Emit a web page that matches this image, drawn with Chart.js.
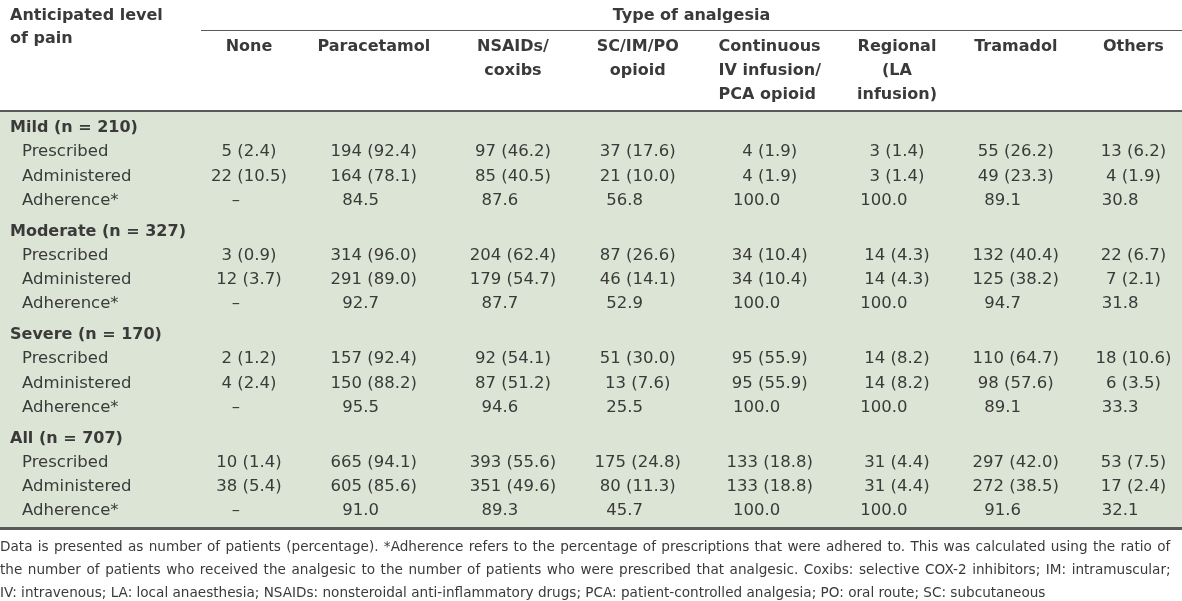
<!DOCTYPE html>
<html>
<head>
<meta charset="utf-8">
<script src="https://cdn.jsdelivr.net/npm/chart.js@4/dist/chart.umd.min.js"></script>
<style>
    html, body { margin: 0; padding: 0; background: #fff; }
    #painTable { display: block; }
</style>
</head>
<body>
<canvas id="painTable" width="1182" height="601"></canvas>
<script>
// column headers (one entry per line of the header cell)
var analgesiaTypes = [
    ['None'],
    ['Paracetamol'],
    ['NSAIDs/', 'coxibs'],
    ['SC/IM/PO', 'opioid'],
    ['Continuous', 'IV infusion/', 'PCA opioid'],
    ['Regional', '(LA', 'infusion)'],
    ['Tramadol'],
    ['Others']
];
var painLevels = ['Mild (n = 210)', 'Moderate (n = 327)', 'Severe (n = 170)', 'All (n = 707)'];
var rowLabels = ['Prescribed', 'Administered', 'Adherence*'];

// number of patients, then percentage
var prescribedN = [
    [5, 194, 97, 37, 4, 3, 55, 13],
    [3, 314, 204, 87, 34, 14, 132, 22],
    [2, 157, 92, 51, 95, 14, 110, 18],
    [10, 665, 393, 175, 133, 31, 297, 53]
];
var prescribedPct = [
    [2.4, 92.4, 46.2, 17.6, 1.9, 1.4, 26.2, 6.2],
    [0.9, 96.0, 62.4, 26.6, 10.4, 4.3, 40.4, 6.7],
    [1.2, 92.4, 54.1, 30.0, 55.9, 8.2, 64.7, 10.6],
    [1.4, 94.1, 55.6, 24.8, 18.8, 4.4, 42.0, 7.5]
];
var administeredN = [
    [22, 164, 85, 21, 4, 3, 49, 4],
    [12, 291, 179, 46, 34, 14, 125, 7],
    [4, 150, 87, 13, 95, 14, 98, 6],
    [38, 605, 351, 80, 133, 31, 272, 17]
];
var administeredPct = [
    [10.5, 78.1, 40.5, 10.0, 1.9, 1.4, 23.3, 1.9],
    [3.7, 89.0, 54.7, 14.1, 10.4, 4.3, 38.2, 2.1],
    [2.4, 88.2, 51.2, 7.6, 55.9, 8.2, 57.6, 3.5],
    [5.4, 85.6, 49.6, 11.3, 18.8, 4.4, 38.5, 2.4]
];
var adherence = [
    [null, 84.5, 87.6, 56.8, 100.0, 100.0, 89.1, 30.8],
    [null, 92.7, 87.7, 52.9, 100.0, 100.0, 94.7, 31.8],
    [null, 95.5, 94.6, 25.5, 100.0, 100.0, 89.1, 33.3],
    [null, 91.0, 89.3, 45.7, 100.0, 100.0, 91.6, 32.1]
];

var footnote = [
    'Data is presented as number of patients (percentage). *Adherence refers to the percentage of prescriptions that were adhered to. This was calculated using the ratio of',
    'the number of patients who received the analgesic to the number of patients who were prescribed that analgesic. Coxibs: selective COX-2 inhibitors; IM: intramuscular;',
    'IV: intravenous; LA: local anaesthesia; NSAIDs: nonsteroidal anti-inflammatory drugs; PCA: patient-controlled analgesia; PO: oral route; SC: subcutaneous'
];

// layout only: column centres in column units, header alignment, spacing
var colPos = [0, 1.04, 2.2, 3.24, 4.34, 5.4, 6.39, 7.37];
var headerAlign = ['center', 'center', 'center', 'center', 'left', 'center', 'center', 'center'];
var groupGap = 1.28;
var adherenceShift = -0.11;

var FONT = '"DejaVu Sans", sans-serif';
var TEXT = '#3a3a3a';
var BAND = '#dce4d5';
var RULE = '#5a5a5a';

var groupRow = function(g) { return g * (3 + groupGap); };

var cellText = function(n, pct) {
    if (n === null || n === undefined) return '\u2013';
    return pct === undefined ? n.toFixed(1) : n + ' (' + pct.toFixed(1) + ')';
};

var buildDataset = function(label, nArr, pctArr, offset, shift) {
    var pts = [];
    nArr.forEach(function(row, g) {
        row.forEach(function(n, c) {
            pts.push({
                x: colPos[c] + (shift || 0),
                y: groupRow(g) + offset,
                cell: pctArr ? cellText(n, pctArr[g][c]) : cellText(n)
            });
        });
    });
    return { label: label, data: pts, pointRadius: 0, pointHoverRadius: 0, showLine: false };
};

// spread the words of a line across a given width
var justify = function(ctx, text, x, y, width) {
    var words = text.split(' ');
    var gap = (width - ctx.measureText(words.join('')).width) / (words.length - 1);
    words.forEach(function(w) {
        ctx.fillText(w, x, y);
        x += ctx.measureText(w).width + gap;
    });
};

var tablePlugin = {
    id: 'tablePlugin',
    beforeDraw: function(chart) {
        var ctx = chart.ctx, a = chart.chartArea;
        ctx.save();
        ctx.fillStyle = '#fff';
        ctx.fillRect(0, 0, chart.width, chart.height);
        ctx.fillStyle = BAND;
        ctx.fillRect(a.left, a.top, a.right - a.left, a.bottom - a.top);
        ctx.restore();
    },
    afterDatasetsDraw: function(chart) {
        var ctx = chart.ctx, a = chart.chartArea;
        var xs = chart.scales.x, ys = chart.scales.y;
        ctx.save();
        ctx.fillStyle = TEXT;
        ctx.textBaseline = 'middle';

        // cells
        ctx.font = '16.5px ' + FONT;
        ctx.textAlign = 'center';
        chart.data.datasets.forEach(function(ds, i) {
            var meta = chart.getDatasetMeta(i);
            meta.data.forEach(function(el, j) {
                ctx.fillText(ds.data[j].cell, el.x, el.y);
            });
        });

        // row labels
        ctx.textAlign = 'left';
        painLevels.forEach(function(name, g) {
            ctx.font = 'bold 16px ' + FONT;
            ctx.fillText(name, a.left + 10, ys.getPixelForValue(groupRow(g)));
            ctx.font = '16.5px ' + FONT;
            rowLabels.forEach(function(r, k) {
                ctx.fillText(r, a.left + 22, ys.getPixelForValue(groupRow(g) + k + 1));
            });
        });

        // header
        var top = a.top;
        var ruleLeft = xs.getPixelForValue(colPos[0]) - 48;
        ctx.font = 'bold 16px ' + FONT;
        ctx.fillText('Anticipated level', a.left + 10, top - 96);
        ctx.fillText('of pain', a.left + 10, top - 73);
        ctx.textAlign = 'center';
        ctx.fillText('Type of analgesia', (ruleLeft + a.right) / 2, top - 96);
        analgesiaTypes.forEach(function(lines, c) {
            var x = xs.getPixelForValue(colPos[c]);
            var widest = Math.max.apply(null, lines.map(function(t) { return ctx.measureText(t).width; }));
            ctx.textAlign = headerAlign[c];
            if (headerAlign[c] === 'left') x -= widest / 2;
            lines.forEach(function(t, k) {
                ctx.fillText(t, x, top - 65 + k * 24);
            });
        });

        // rules
        ctx.fillStyle = RULE;
        ctx.fillRect(ruleLeft, top - 82, a.right - ruleLeft, 1);
        ctx.fillRect(a.left, top - 2, a.right - a.left, 2);
        ctx.fillRect(a.left, a.bottom, a.right - a.left, 3);

        // footnote
        ctx.fillStyle = TEXT;
        ctx.textAlign = 'left';
        ctx.font = '13.6px ' + FONT;
        footnote.forEach(function(t, k) {
            var y = a.bottom + 20 + k * 23;
            if (k < footnote.length - 1) justify(ctx, t, a.left, y, a.right - a.left - 12);
            else ctx.fillText(t, a.left, y);
        });
        ctx.restore();
    }
};

var lastRow = groupRow(painLevels.length - 1) + 3;

new Chart(document.getElementById('painTable'), {
    type: 'scatter',
    data: {
        datasets: [
            buildDataset('Prescribed', prescribedN, prescribedPct, 1),
            buildDataset('Administered', administeredN, administeredPct, 2),
            buildDataset('Adherence*', adherence, null, 3, adherenceShift)
        ]
    },
    options: {
        responsive: false,
        animation: false,
        events: [],
        layout: { padding: { top: 112, bottom: 74, left: 0, right: 0 } },
        plugins: { legend: { display: false }, tooltip: { enabled: false } },
        scales: {
            x: { type: 'linear', display: false, min: -2.075, max: 7.775 },
            y: { type: 'linear', display: false, reverse: true, min: -0.66, max: lastRow + 0.66 }
        }
    },
    plugins: [tablePlugin]
});
</script>
</body>
</html>
